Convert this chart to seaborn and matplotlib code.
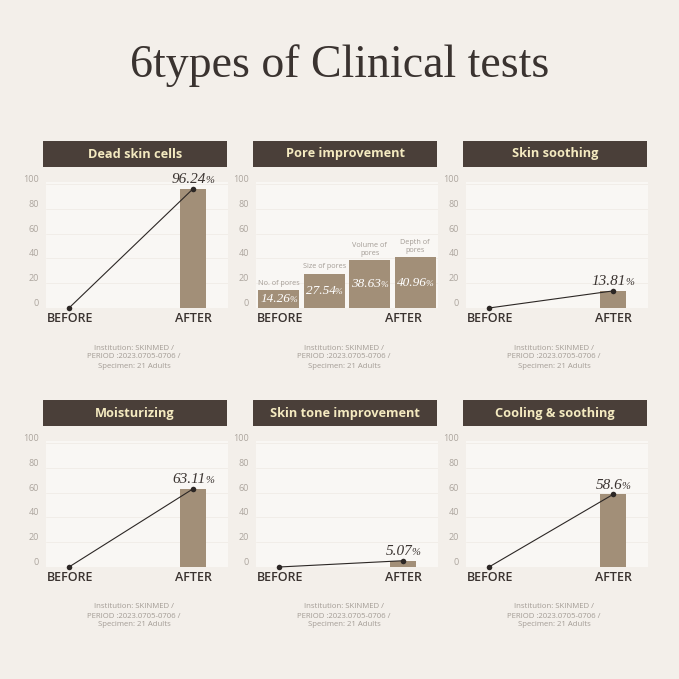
import matplotlib
matplotlib.use("Agg")
import matplotlib.pyplot as plt
import numpy as np
import pandas as pd
import seaborn as sns
from matplotlib.offsetbox import TextArea, HPacker, AnnotationBbox
from matplotlib.patches import Rectangle

TITLE = '6types of Clinical tests'
PANEL_TITLES = ['Dead skin cells', 'Pore improvement', 'Skin soothing',
                'Moisturizing', 'Skin tone improvement', 'Cooling & soothing']
STAGES = ['BEFORE', 'AFTER']
BEFORE_VALUE = 0
AFTER_VALUES = [96.24, None, 13.81, 63.11, 5.07, 58.6]
AFTER_LABELS = ['96.24', None, '13.81', '63.11', '5.07', '58.6']
PORE_NAMES = ['No. of pores', 'Size of pores', 'Volume of\npores', 'Depth of\npores']
PORE_VALUES = [14.26, 27.54, 38.63, 40.96]
PORE_LABELS = ['14.26', '27.54', '38.63', '40.96']
Y_TICKS = [0, 20, 40, 60, 80, 100]
FOOTNOTE = 'Institution: SKINMED /\nPERIOD :2023.0705-0706 /\nSpecimen: 21 Adults'

BG = '#f3efea'
PLOT_BG = '#f9f7f4'
GRID = '#f0ece6'
HEADER = '#4a3f39'
HEADER_TXT = '#f4eac0'
BAR = '#a28f78'
DARK = '#3a3330'
TICK = '#aca59e'
NOTE = '#a39c95'

W = H = 679
sns.set_style('white')
plt.rcParams['font.family'] = ['Open Sans', 'DejaVu Sans']

fig = plt.figure(figsize=(W / 100, H / 100), dpi=100, facecolor=BG)


def px_rect(x, y, w, h):
    # pixel box (top-left origin) -> figure fraction
    return [x / W, 1 - (y + h) / H, w / W, h / H]


fig.text(0.5, 1 - 66 / H, TITLE, ha='center', va='center', fontsize=33,
         family='Liberation Serif', color=DARK)

col_x = [46, 256, 466]
row_y = [182, 441]
PW, PH = 182, 126


def value_box(num, size, color):
    return HPacker(children=[
        TextArea(num, textprops=dict(family='Liberation Serif', style='italic', fontsize=size, color=color)),
        TextArea('%', textprops=dict(family='Liberation Serif', style='italic', fontsize=size * 0.7, color=color)),
    ], align='baseline', pad=0, sep=-0.5)


for i, title in enumerate(PANEL_TITLES):
    r, c = divmod(i, 3)
    x0, y0 = col_x[c], row_y[r]

    # header bar
    hdr = fig.add_axes(px_rect(x0 - 3, y0 - 41, 184, 26))
    hdr.set_axis_off()
    hdr.add_patch(Rectangle((0, 0), 1, 1, transform=hdr.transAxes, color=HEADER))
    hdr.text(0.5, 0.5, title, ha='center', va='center', color=HEADER_TXT,
             fontsize=9.2, fontweight='bold', transform=hdr.transAxes)

    ax = fig.add_axes(px_rect(x0, y0, PW, PH))
    ax.set_facecolor(PLOT_BG)

    if AFTER_VALUES[i] is None:
        df = pd.DataFrame({'name': PORE_NAMES, 'value': PORE_VALUES})
        sns.barplot(data=df, x='name', y='value', color=BAR, width=0.9,
                    saturation=1, linewidth=0, ax=ax, zorder=3)
        for k, (nm, v, lab) in enumerate(zip(PORE_NAMES, PORE_VALUES, PORE_LABELS)):
            ax.annotate(nm, (k, v), xytext=(0, 2.5), textcoords='offset points',
                        ha='center', va='bottom', fontsize=5.2, color=NOTE,
                        linespacing=1.1)
            ab = AnnotationBbox(value_box(lab, 9.5, 'white'), (k, v / 2),
                                box_alignment=(0.5, 0.5), frameon=False)
            ax.add_artist(ab)
        ax.set_xlim(-0.5, 3.5)
    else:
        v = AFTER_VALUES[i]
        df = pd.DataFrame({'stage': STAGES, 'value': [BEFORE_VALUE, v]})
        sns.barplot(data=df, x='stage', y='value', color=BAR, width=0.21,
                    saturation=1, linewidth=0, ax=ax, zorder=3)
        sns.lineplot(x=[0, 1], y=[BEFORE_VALUE, v], color='#2c2725', linewidth=0.8,
                     marker='o', markersize=4, markeredgewidth=0, ax=ax, zorder=4,
                     clip_on=False)
        ab = AnnotationBbox(value_box(AFTER_LABELS[i], 11, DARK), (1, v),
                            xybox=(0, 2), boxcoords='offset points',
                            box_alignment=(0.5, 0), frameon=False)
        ax.add_artist(ab)
        ax.set_xlim(-0.185, 1.28)

    ax.set_ylim(0, 101.6)
    ax.set_yticks(Y_TICKS)
    ax.set_yticklabels([str(t) for t in Y_TICKS], va='bottom')
    ax.tick_params(axis='y', length=0, pad=5, labelsize=6.5, labelcolor=TICK)
    ax.set_xticks([])
    ax.set_xlabel('')
    ax.set_ylabel('')
    for t in Y_TICKS[1:]:
        ax.axhline(t, color=GRID, linewidth=0.6, zorder=1)
    for s in ax.spines.values():
        s.set_visible(False)

    ax.text(0.13, -0.08, 'BEFORE', transform=ax.transAxes, ha='center', va='center',
            fontsize=9, fontweight='semibold', color=DARK)
    ax.text(0.81, -0.08, 'AFTER', transform=ax.transAxes, ha='center', va='center',
            fontsize=9, fontweight='semibold', color=DARK)
    fig.text((x0 + PW / 2 - 3) / W, 1 - (y0 + 175) / H, FOOTNOTE, ha='center', va='center',
             fontsize=5.6, color=NOTE, linespacing=1.4)

fig.savefig('out.png', dpi=100, facecolor=BG)
